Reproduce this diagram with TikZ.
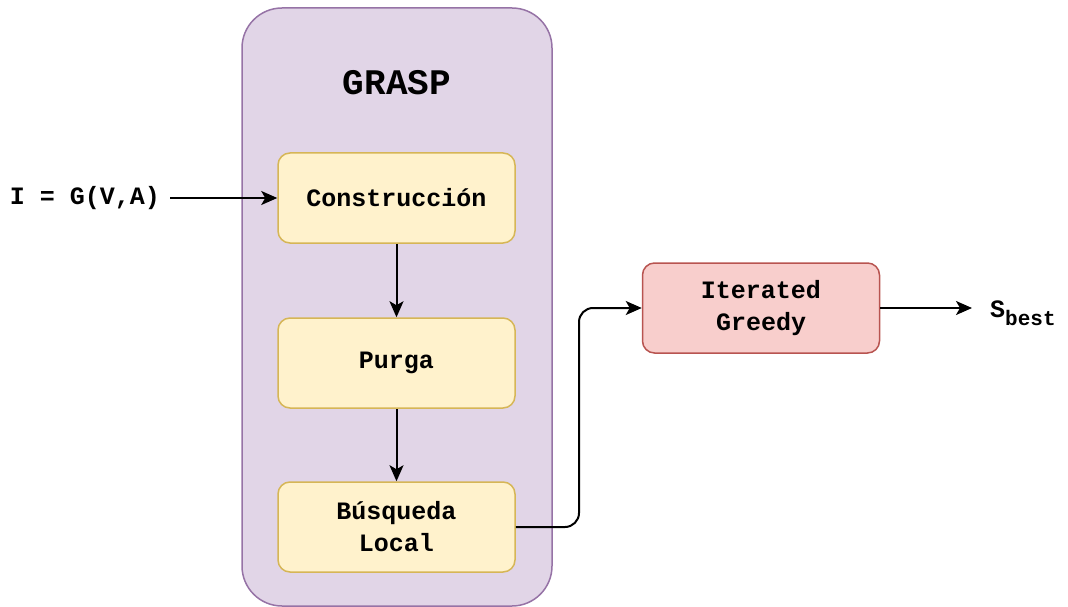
\documentclass[tikz,border=0pt]{standalone}
\usepackage{fontspec}
\setmonofont{Liberation Mono}
\usetikzlibrary{arrows.meta}
\definecolor{grpfill}{HTML}{E1D5E7}
\definecolor{grpline}{HTML}{9673A6}
\definecolor{stepfill}{HTML}{FFF2CC}
\definecolor{stepline}{HTML}{D6B656}
\definecolor{igfill}{HTML}{F8CECC}
\definecolor{igline}{HTML}{B85450}
\tikzset{
  lbl/.style={font=\fontsize{25}{32}\selectfont\ttfamily\bfseries, align=center},
  stepbox/.style={lbl, draw=stepline, fill=stepfill, line width=1.5pt,
    rounded corners=12pt, minimum width=237pt, minimum height=90pt, inner sep=0pt},
  igbox/.style={lbl, draw=igline, fill=igfill, line width=1.5pt,
    rounded corners=12pt, minimum width=237pt, minimum height=90pt, inner sep=0pt},
  conn/.style={line width=2pt, -{Stealth[length=16pt,width=14pt,inset=4pt]}},
}
\begin{document}
\begin{tikzpicture}[x=1pt,y=-1pt]
\useasboundingbox (0,0) rectangle (1068,607);
% GRASP container
\node[draw=grpline, fill=grpfill, line width=1.5pt, rounded corners=40pt,
  minimum width=310pt, minimum height=598pt, inner sep=0pt] (grasp) at (397,307) {};
\node[font=\fontsize{36}{36}\selectfont\ttfamily\bfseries] (title) at (397,83) {GRASP};
% steps
\node[stepbox] (cons) at (396.5,198) {Construcción};
\node[stepbox] (purga) at (396.5,363) {Purga};
\node[stepbox] (bl) at (396.5,527) {Búsqueda\\Local};
\node[igbox] (ig) at (761,308) {Iterated\\Greedy};
% input and output
\node[lbl, anchor=east, inner sep=0pt] (inp) at (160,198) {I = G(V,A)};
\node[lbl, anchor=west, inner sep=0pt] (out) at (990,313)
  {S\raisebox{-0.3em}{\fontsize{21}{21}\selectfont best}};
\coordinate (outtip) at (972,308);
% connectors
\draw[conn] (inp.east) ++(10pt,0) -- (cons.west);
\draw[conn] (cons.south) -- (purga.north);
\draw[conn] (purga.south) -- (bl.north);
\draw[conn, rounded corners=14pt] (bl.east) -| (579,400) |- (ig.west);
\draw[conn] (ig.east) -- (outtip);
\end{tikzpicture}
\end{document}
